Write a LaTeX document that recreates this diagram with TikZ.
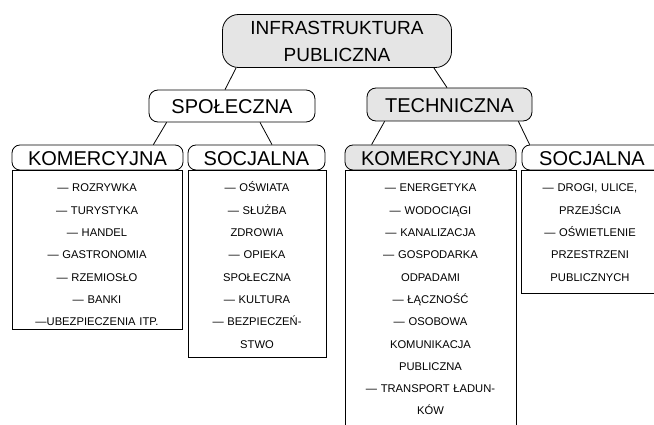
\documentclass[tikz,border=0pt]{standalone}
\usepackage{fontspec}
\setmainfont{Liberation Sans}
\definecolor{boxgray}{gray}{0.9}
\begin{document}
\begin{tikzpicture}[x=1pt,y=-1pt, line width=0.8pt,
  hdr/.style={draw, rounded corners=8pt, inner sep=0pt, font=\fontsize{20}{24}\selectfont,
    text height=16pt, text depth=0pt, minimum height=25pt, fill=white},
  grayhdr/.style={hdr, fill=boxgray},
  topbox/.style={draw, rounded corners=16pt, inner sep=0pt, fill=boxgray, align=center,
    font=\fontsize{19}{27}\selectfont, minimum width=229pt, minimum height=53pt},
  listbox/.style={draw, inner sep=0pt},
  listtext/.style={inner sep=0pt, align=center, anchor=base, font=\fontsize{11.2}{22.3}\selectfont},
  link/.style={draw}
]
\useasboundingbox (0,0) rectangle (654,425);
\clip (0,0) rectangle (654,425);

% top
\node[topbox] (top) at (337,41) {INFRASTRUKTURA\\PUBLICZNA};
% level 2
\node[hdr, minimum width=166pt, minimum height=32pt, rounded corners=9pt] (spol) at (232,106) {SPOŁECZNA};
\node[grayhdr, minimum width=165pt, minimum height=33pt, rounded corners=9pt] (tech) at (449.5,104.5) {TECHNICZNA};
% level 3 headers
\node[hdr, minimum width=171pt] (hk1) at (97.5,157.5) {KOMERCYJNA};
\node[hdr, minimum width=137pt] (hs1) at (256.5,157.5) {SOCJALNA};
\node[grayhdr, minimum width=171pt] (hk2) at (430.5,157.5) {KOMERCYJNA};
\node[hdr, minimum width=140pt] (hs2) at (592,157.5) {SOCJALNA};

% list boxes
\node[listbox, anchor=north, minimum width=170pt, minimum height=159pt] (ck1) at (97,170) {};
\node[listbox, anchor=north, minimum width=138pt, minimum height=187pt] (cs1) at (257,170) {};
\node[listbox, anchor=north, minimum width=171pt, minimum height=270pt] (ck2) at (430.5,170) {};
\node[listbox, anchor=north, minimum width=141pt, minimum height=123pt] (cs2) at (591.5,170) {};

\node[listtext, text width=166pt] (tk1) at (97,192) {— ROZRYWKA\\— TURYSTYKA\\— HANDEL\\— GASTRONOMIA\\— RZEMIOSŁO\\— BANKI\\—UBEZPIECZENIA ITP.};
\node[listtext, text width=134pt] (ts1) at (257,192) {— OŚWIATA\\— SŁUŻBA\\ZDROWIA\\— OPIEKA\\SPOŁECZNA\\— KULTURA\\— BEZPIECZEŃ-\\STWO};
\node[listtext, text width=167pt] (tk2) at (430.5,192) {— ENERGETYKA\\— WODOCIĄGI\\— KANALIZACJA\\— GOSPODARKA\\ODPADAMI\\— ŁĄCZNOŚĆ\\— OSOBOWA\\KOMUNIKACJA\\PUBLICZNA\\— TRANSPORT ŁADUN-\\KÓW};
\node[listtext, text width=130pt] (ts2) at (590,192) {— DROGI, ULICE,\\PRZEJŚCIA\\— OŚWIETLENIE\\PRZESTRZENI\\PUBLICZNYCH};

% connectors
\draw[link] ([xshift=14pt]top.south west) -- ([xshift=-7pt]spol.north);
\draw[link] ([xshift=-18pt]top.south east) -- ([xshift=-2.5pt]tech.north);
\draw[link] ([xshift=18pt]spol.south west) -- ([xshift=-30pt]hk1.north east);
\draw[link] ([xshift=28pt]spol.south) -- ([xshift=15.5pt]hs1.north);
\draw[link] ([xshift=18pt]tech.south west) -- ([xshift=27pt]hk2.north west);
\draw[link] ([xshift=-14pt]tech.south east) -- ([xshift=8pt]hs2.north west);
\end{tikzpicture}
\end{document}
